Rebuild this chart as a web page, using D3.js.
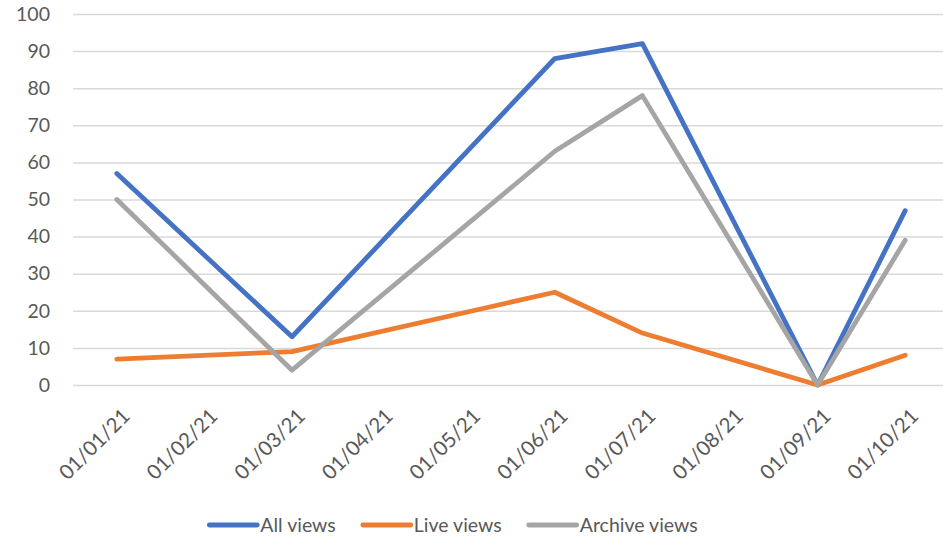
<!DOCTYPE html>
<html>
<head>
<meta charset="utf-8">
<script src="https://cdn.jsdelivr.net/npm/d3@7.9.0/dist/d3.min.js"></script>
<style>
  html, body { margin: 0; padding: 0; background: #fff; }
  svg { display: block; font-family: Lato, 'Open Sans', sans-serif; }
</style>
</head>
<body>
<svg id="chart" width="943" height="540"></svg>
<script>
// month ticks on the date axis (dd/mm/yy)
const months = ['01/01/21', '01/02/21', '01/03/21', '01/04/21', '01/05/21',
  '01/06/21', '01/07/21', '01/08/21', '01/09/21', '01/10/21'];

// dates that actually carry data
const dates = ['01/01/21', '01/03/21', '01/06/21', '01/07/21', '01/09/21', '01/10/21'];

const allViews = [57, 13, 88, 92, 0, 47];
const liveViews = [7, 9, 25, 14, 0, 8];
const archiveViews = [50, 4, 63, 78, 0, 39];

const yTicks = [0, 10, 20, 30, 40, 50, 60, 70, 80, 90, 100];

const series = [
  { name: 'All views', values: allViews, color: '#4472C4' },
  { name: 'Live views', values: liveViews, color: '#ED7D31' },
  { name: 'Archive views', values: archiveViews, color: '#A5A5A5' },
];

const svg = d3.select('#chart');
const textColor = '#595959';
const fontSize = 19.5;

const x = d3.scalePoint().domain(months).range([73, 949]).padding(0.5);
const y = d3.scaleLinear().domain([0, 100]).range([385, 14]);

// gridlines + y labels
const yAxis = d3.axisLeft(y)
  .tickValues(yTicks)
  .tickSize(-(949 - 73))
  .tickPadding(23);

svg.append('g')
  .attr('transform', 'translate(73,0)')
  .call(yAxis)
  .call((g) => g.select('.domain').remove())
  .call((g) => g.selectAll('.tick line')
    .attr('stroke', '#d9d9d9')
    .attr('stroke-width', 1.5))
  .call((g) => g.selectAll('.tick text')
    .attr('fill', textColor)
    .attr('font-size', fontSize)
    .attr('font-family', 'Lato, sans-serif'));

// x labels, rotated
svg.append('g')
  .selectAll('text')
  .data(months)
  .join('text')
  .attr('transform', (d) => `translate(${x(d) + 4},407) rotate(-45)`)
  .attr('text-anchor', 'end')
  .attr('dy', '0.72em')
  .attr('fill', textColor)
  .attr('font-size', 20.5)
  .text((d) => d);

// lines
const line = d3.line()
  .x((d, i) => x(dates[i]))
  .y((d) => y(d));

svg.append('g')
  .selectAll('path')
  .data(series)
  .join('path')
  .attr('fill', 'none')
  .attr('stroke', (d) => d.color)
  .attr('stroke-width', 4.8)
  .attr('stroke-linejoin', 'round')
  .attr('stroke-linecap', 'round')
  .attr('d', (d) => line(d.values));

// legend
const legend = svg.append('g');
const items = legend.selectAll('g')
  .data(series)
  .join('g');

items.append('line')
  .attr('x1', 0).attr('x2', 48)
  .attr('y1', 0).attr('y2', 0)
  .attr('stroke', (d) => d.color)
  .attr('stroke-width', 4.8)
  .attr('stroke-linecap', 'round');

items.append('text')
  .attr('x', 51)
  .attr('dy', '0.36em')
  .attr('fill', textColor)
  .attr('font-size', fontSize)
  .text((d) => d.name);

let offset = 0;
const widths = [];
items.each(function () {
  const w = 51 + d3.select(this).select('text').node().getComputedTextLength();
  widths.push(w);
});
const gap = 27;
const total = d3.sum(widths) + gap * (widths.length - 1);
let start = 453.5 - total / 2;
items.attr('transform', (d, i) => {
  const t = `translate(${start + offset},525)`;
  offset += widths[i] + gap;
  return t;
});
</script>
</body>
</html>
